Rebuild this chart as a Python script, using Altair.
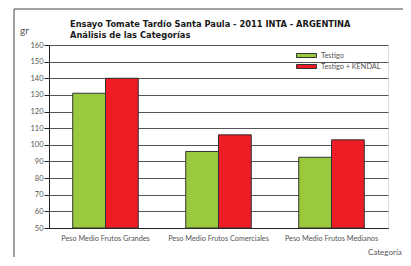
import altair as alt
import pandas as pd

categories = ["Peso Medio Frutos Grandes", "Peso Medio Frutos Comerciales", "Peso Medio Frutos Medianos"]
series = ["Testigo", "Testigo + KENDAL"]
testigo = [131, 96, 92.5]
kendal = [140, 106, 103]
y_ticks = [50, 60, 70, 80, 90, 100, 110, 120, 130, 140, 150, 160]
colors = ["#9BC93D", "#EE1D25"]

rows = []
for c, a, b in zip(categories, testigo, kendal):
    rows.append({"cat": c, "serie": series[0], "val": a})
    rows.append({"cat": c, "serie": series[1], "val": b})
df = pd.DataFrame(rows)

FONT = "Lato"
W, H = 339, 183

bars = alt.Chart(df).mark_bar(stroke="#333333", strokeWidth=1).encode(
    x=alt.X("cat:N", sort=categories, title=None,
            scale=alt.Scale(paddingInner=0.42, paddingOuter=0.21),
            axis=alt.Axis(labelAngle=0, ticks=False, domain=True, domainColor="#222",
                          labelPadding=6, labelFontSize=7.3, labelColor="#555",
                          labelFont=FONT, grid=False)),
    xOffset=alt.XOffset("serie:N", sort=series, scale=alt.Scale(paddingInner=0, paddingOuter=0)),
    y=alt.Y("val:Q", title=None,
            scale=alt.Scale(domain=[50, 160], zero=False, nice=False),
            axis=alt.Axis(values=y_ticks, tickSize=5, tickColor="#222", domainColor="#222",
                          labelPadding=1, labelFontSize=7.5, labelColor="#555", labelFont=FONT,
                          grid=True, gridColor="#555", gridWidth=1)),
    y2=alt.datum(50),
    color=alt.Color("serie:N", sort=series, title=None,
                    scale=alt.Scale(domain=series, range=colors),
                    legend=alt.Legend(orient="none", legendX=252, legendY=5,
                                      symbolType="M-2,-0.4H2V0.4H-2Z", symbolSize=100,
                                      symbolStrokeColor="#333", symbolStrokeWidth=1,
                                      labelFont=FONT, labelFontSize=7.3, labelColor="#555",
                                      rowPadding=1, labelOffset=9)),
)

frame_left = alt.Chart().mark_rule(color="#444", strokeWidth=1).encode(
    x=alt.value(-35), y=alt.value(-36), y2=alt.value(H + 40))
frame_top = alt.Chart().mark_rule(color="#444", strokeWidth=1).encode(
    x=alt.value(-35), x2=alt.value(W + 40), y=alt.value(-36))

title1 = alt.Chart().mark_text(align="left", baseline="alphabetic", font="DejaVu Sans",
                               fontWeight="bold", fontSize=8.3, color="#1a1a1a").encode(
    x=alt.value(21), y=alt.value(-18.5),
    text=alt.value("Ensayo Tomate Tardío Santa Paula - 2011 INTA - ARGENTINA"))
title2 = alt.Chart().mark_text(align="left", baseline="alphabetic", font="DejaVu Sans",
                               fontWeight="bold", fontSize=8.3, color="#1a1a1a").encode(
    x=alt.value(21), y=alt.value(-7.5), text=alt.value("Análisis de las Categorías"))
unit = alt.Chart().mark_text(align="left", baseline="alphabetic", font=FONT,
                             fontSize=10, color="#555").encode(
    x=alt.value(-29), y=alt.value(-11), text=alt.value("gr"))
xlab = alt.Chart().mark_text(align="left", baseline="alphabetic", font=FONT,
                             fontSize=8, color="#555").encode(
    x=alt.value(319), y=alt.value(H + 27), text=alt.value("Categoría"))

chart = alt.layer(bars, frame_left, frame_top, title1, title2, unit, xlab).properties(
    width=W, height=H,
    autosize=alt.AutoSizeParams(type="none"),
    padding={"left": 41, "top": 37, "right": 15, "bottom": 29},
).configure_view(stroke="#222", strokeWidth=1).configure(background="white")

chart.save("out.html", embed_options={"renderer": "svg", "actions": False})
